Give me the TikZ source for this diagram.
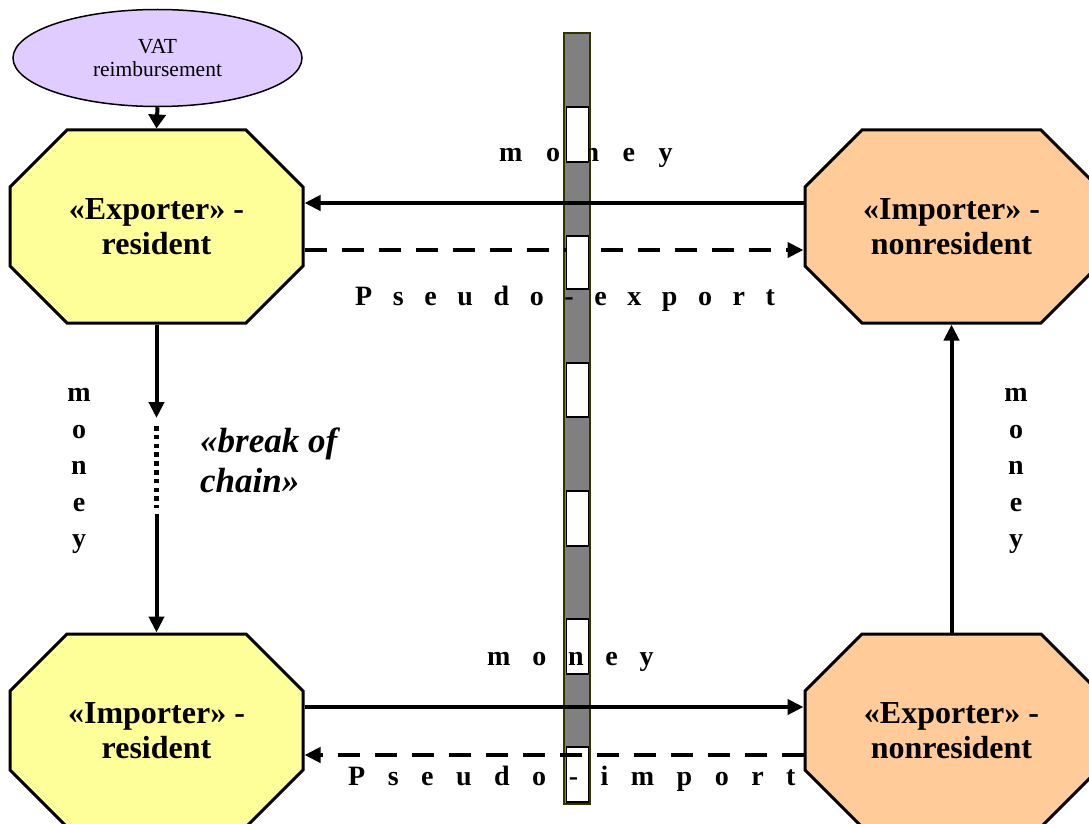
\documentclass[tikz,border=0pt]{standalone}
\usepackage{fontspec}
\setmainfont{Liberation Serif}
\usetikzlibrary{arrows.meta,shapes.geometric}

\definecolor{resfill}{HTML}{FFFF99}
\definecolor{nonresfill}{HTML}{FFCC99}
\definecolor{vatfill}{HTML}{E0CCFF}
\definecolor{bargray}{HTML}{808080}
\definecolor{barrim}{HTML}{333300}

% letter gaps for the stretched labels
\newcommand\gA{\hspace{23.5pt}}
\newcommand\gB{\hspace{20.6pt}}
\newcommand\gC{\hspace{21.8pt}}
\newcommand\gD{\hspace{22.5pt}}

% an octagonal party box: #1 name, #2 centre, #3 fill, #4 text
\newcommand\partybox[4]{%
  \draw[octline, fill=#3, shift={(#2)}]
    (-146.5,-39.5) -- (-89.5,-96.5) -- (89.5,-96.5) -- (146.5,-39.5)
    -- (146.5,39.5) -- (89.5,96.5) -- (-89.5,96.5) -- (-146.5,39.5) -- cycle;
  \node[party] (#1) at (#2) {#4};}

\tikzset{
  octline/.style={draw=black, line width=3pt, line join=miter},
  party/.style={rectangle, inner sep=0pt, outer sep=1.5pt,
    minimum width=293pt, minimum height=193pt,
    align=center, font=\fontsize{32}{34.5}\selectfont\bfseries},
  flow/.style={line width=4pt, -{Triangle[length=16pt,width=15pt]}},
  pseudo/.style={flow, dash pattern=on 22pt off 15pt},
  breakline/.style={line width=4.5pt, dash pattern=on 4.5pt off 4.3pt},
  lbl/.style={inner sep=0pt, font=\fontsize{28}{28}\selectfont\bfseries},
  vlbl/.style={inner sep=0pt, align=center, font=\fontsize{28}{36.5}\selectfont\bfseries},
  gateway/.style={fill=bargray, draw=barrim, line width=2pt},
  gate/.style={fill=white, draw=black, line width=1.5pt}
}

\begin{document}
\begin{tikzpicture}[x=1pt,y=-1pt]
\useasboundingbox (0,0) rectangle (1089,824);
\clip (0,0) rectangle (1089,824);

% border strip between the two countries
\draw[gateway] (564,33) rectangle (590,804);
\foreach \ya/\yb in {363/417, 491/546, 619/674, 747/802}
  \draw[gate] (566.5,\ya) rectangle (588.5,\yb);

% parties
\node[ellipse, draw=black, line width=1.5pt, fill=vatfill,
      minimum width=289pt, minimum height=97pt, align=center,
      font=\fontsize{21.5}{23}\selectfont] (vat) at (157.5,58) {VAT\\reimbursement};
\partybox{er}{156.5,226.5}{resfill}{«Exporter» -\\resident}
\partybox{ir}{156.5,730.5}{resfill}{«Importer» -\\resident}
\partybox{inr}{951.5,226.5}{nonresfill}{«Importer» -\\nonresident}
\partybox{enr}{951.5,730.5}{nonresfill}{«Exporter» -\\nonresident}

% flows
\draw[line width=4pt, -{Triangle[length=14pt,width=17pt]}] (vat.south) -- (er.north);
\draw[flow] ([yshift=23.5pt]inr.west) -- ([yshift=23.5pt]er.east);
\draw[pseudo] ([yshift=-23.5pt]er.east) -- ([yshift=-23.5pt]inr.west);
\draw[flow] ([yshift=23.5pt]ir.east) -- ([yshift=23.5pt]enr.west);
\draw[pseudo] ([yshift=-24.5pt]enr.west) -- ([yshift=-24.5pt]ir.east);
\draw[flow] (enr.north) -- (inr.south);

\coordinate (brkA) at (156.5,418);
\coordinate (dotA) at (156.5,426);
\coordinate (dotB) at (156.5,508);
\coordinate (brkB) at (156.5,514);
\draw[flow] (er.south) -- (brkA);
\draw[breakline] (dotA) -- (dotB);
\draw[flow] (brkB) -- (ir.north);

% labels
\node[lbl, anchor=base west] (m1) at (499,161) {m\gA o\gA n\gA e\gA y};
\node[lbl, anchor=base west] (pe) at (355,305) {P\gB s\gB e\gB u\gB d\gB o\gB -\gB e\gB x\gB p\gB o\gB r\gB t};
\node[lbl, anchor=base west] (m2) at (487,665) {m\gC o\gC n\gC e\gC y};
\node[lbl, anchor=base west] (pi) at (348,785) {P\gD s\gD e\gD u\gD d\gD o\gD -\gD i\gD m\gD p\gD o\gD r\gD t};
\node[vlbl] (mL) at (79,471) {m\\o\\n\\e\\y};
\node[vlbl] (mR) at (1016,471) {m\\o\\n\\e\\y};
\node[inner sep=0pt, anchor=west, align=left,
      font=\fontsize{35}{40}\selectfont\bfseries\itshape] (brk) at (200,460)
      {«break of\\chain»};

% upper openings of the strip lie over the flows
\foreach \ya/\yb in {107/162, 236/289}
  \draw[gate] (566.5,\ya) rectangle (588.5,\yb);
\end{tikzpicture}
\end{document}
